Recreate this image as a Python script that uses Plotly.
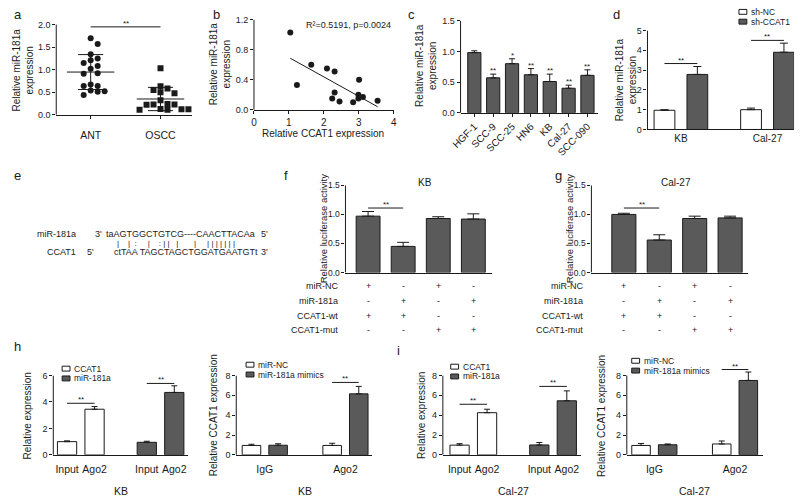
import numpy as np
import plotly.graph_objects as go

W, H = 800, 503
FONT = "Liberation Sans, Arial, sans-serif"
INK = "#1a1a1a"
GRAY = "#5a5a5a"

# ---------------- data ----------------
# (a) scatter, relative miR-181a expression
a_groups = ["ANT", "OSCC"]
a_ant = [1.70, 1.57, 1.34, 1.25, 1.21, 1.15, 1.08, 1.02, 0.92, 0.91, 0.67, 0.64, 0.64, 0.54, 0.52, 0.51, 0.44]
a_oscc = [1.03, 0.63, 0.58, 0.55, 0.50, 0.48, 0.32, 0.24, 0.23, 0.23, 0.22, 0.13, 0.12, 0.11, 0.11, 0.12]
a_ylabel = "Relative miR-181a<br>expression"

# (b) correlation
b_ccat1 = [1.04, 1.23, 1.64, 2.09, 2.31, 2.31, 2.24, 2.45, 3.01, 2.99, 2.99, 3.12, 2.84, 3.54]
b_mir181a = [1.03, 0.33, 0.60, 0.55, 0.51, 0.23, 0.15, 0.11, 0.40, 0.20, 0.15, 0.17, 0.10, 0.12]
b_stat = "R²=0.5191, p=0.0024"
b_xlabel = "Relative CCAT1 expression"

# (c) cell lines
c_lines = ["HGF-1", "SCC-9", "SCC-25", "HN6", "KB", "Cal-27", "SCC-090"]
c_mean = [0.98, 0.57, 0.80, 0.62, 0.51, 0.40, 0.61]
c_err = [0.03, 0.06, 0.08, 0.10, 0.12, 0.05, 0.09]
c_sig = ["", "**", "*", "**", "**", "**", "**"]

# (d) knockdown
d_cells = ["KB", "Cal-27"]
d_series = ["sh-NC", "sh-CCAT1"]
d_nc = [0.97, 1.00]
d_nc_err = [0.03, 0.08]
d_sh = [2.78, 3.90]
d_sh_err = [0.40, 0.46]
d_sig = [3.33, 4.50]

# (e) binding sites
e_mir_name, e_mir_end5, e_mir_seq, e_mir_end3 = "miR-181a", "3'", "taAGTGGCTGTCG----CAACTTACAa", "5'"
e_lnc_name, e_lnc_end5, e_lnc_seq, e_lnc_end3 = "CCAT1", "5'", "ctTAA TAGCTAGCTGGATGAATGTt", "3'"
e_pairs = "|    |  :     |    : | |   |       |     | | | | | | |"

# (f, g) luciferase
fg_rows = ["miR-NC", "miR-181a", "CCAT1-wt", "CCAT1-mut"]
fg_table = [["+", "-", "+", "-"],
            ["-", "+", "-", "+"],
            ["+", "+", "-", "-"],
            ["-", "-", "+", "+"]]
f_title, f_mean, f_err = "KB", [0.97, 0.45, 0.93, 0.92], [0.08, 0.07, 0.03, 0.09]
g_title, g_mean, g_err = "Cal-27", [1.00, 0.56, 0.93, 0.94], [0.02, 0.09, 0.04, 0.03]
fg_ylabel = "Relative luciferase activity"

# (h, i) RIP
rip_ticks = ["Input", "Ago2"]
rip_series = ["CCAT1", "miR-181a"]
h_ccat1, h_ccat1_err = [1.00, 3.45], [0.06, 0.20]
h_mir, h_mir_err = [0.95, 4.72], [0.08, 0.50]
h_sig = [3.9, 5.4]
i_ccat1, i_ccat1_err = [0.98, 4.25], [0.15, 0.35]
i_mir, i_mir_err = [1.00, 5.45], [0.25, 1.00]
i_sig = [5.1, 6.9]

mim_groups = ["IgG", "Ago2"]
mim_series = ["miR-NC", "miR-181a mimics"]
hr_nc, hr_nc_err = [0.95, 0.95], [0.12, 0.22]
hr_mim, hr_mim_err = [0.97, 6.15], [0.15, 0.75]
hr_sig = 7.3
ir_nc, ir_nc_err = [0.95, 1.10], [0.20, 0.30]
ir_mim, ir_mim_err = [1.02, 7.50], [0.08, 0.85]
ir_sig = 8.6

# ---------------- helpers ----------------
fig = go.Figure()
layout = dict(width=W, height=H, margin=dict(l=0, r=0, t=0, b=0),
              paper_bgcolor="white", plot_bgcolor="white", showlegend=False,
              font=dict(family=FONT, size=9, color=INK))
shapes, annots = [], []


def sfx(n):
    return "" if n == 1 else str(n)


def make_axes(n, left, right, c0, x0, c1, x1, zero, top, topval, ymax, ytickvals, yfmt,
              xtickvals=None, xticktext=None, xticks="", tickangle=0, xlabels=True,
              xfont=10, yfont=9, xstand=0):
    pp = (c1 - c0) / (x1 - x0)
    xr = [x0 - (c0 - left) / pp, x1 + (right - c1) / pp]
    py = (zero - top) / topval
    dtop = zero - ymax * py
    s = sfx(n)
    layout["xaxis" + s] = dict(domain=[left / W, right / W], range=xr, anchor="y" + s,
                               showline=True, linecolor=INK, linewidth=1, showgrid=False,
                               zeroline=False, ticks=xticks, ticklen=3, tickcolor=INK,
                               tickvals=xtickvals, ticktext=xticktext, tickangle=tickangle,
                               showticklabels=xlabels, tickfont=dict(size=xfont, color=INK),
                               ticklabelstandoff=xstand, fixedrange=True)
    layout["yaxis" + s] = dict(domain=[1 - zero / H, 1 - dtop / H], range=[0, ymax], anchor="x" + s,
                               showline=False, showgrid=False, zeroline=False, ticks="outside",
                               ticklen=3, tickcolor=INK, tickvals=ytickvals, tickformat=yfmt,
                               tickfont=dict(size=yfont, color=INK), fixedrange=True)
    shapes.append(dict(type="line", xref="x" + s + " domain", yref="y" + s, x0=0, x1=0,
                       y0=0, y1=topval, line=dict(color=INK, width=1)))


def bars(n, x, y, err, color, width, cap):
    s = sfx(n)
    fig.add_trace(go.Bar(x=x, y=y, width=width, xaxis="x" + s, yaxis="y" + s,
                         marker=dict(color=color, line=dict(color=INK, width=1)),
                         error_y=dict(type="data", array=err, arrayminus=[0] * len(err),
                                      symmetric=False, color=INK, thickness=1, width=cap)))


def sig(n, x0, x1, y, text="**"):
    s = sfx(n)
    shapes.append(dict(type="line", xref="x" + s, yref="y" + s, x0=x0, x1=x1, y0=y, y1=y,
                       line=dict(color=INK, width=1)))
    annots.append(dict(xref="x" + s, yref="y" + s, x=(x0 + x1) / 2, y=y, text=text, showarrow=False,
                       yanchor="bottom", yshift=-3, font=dict(size=8, color=INK)))


def txt(x, y, text, size=10, xanchor="center", angle=0, **kw):
    annots.append(dict(xref="paper", yref="paper", x=x / W, y=1 - y / H, text=text, showarrow=False,
                       xanchor=xanchor, yanchor="middle", textangle=angle,
                       font=dict(size=size, color=INK, family=FONT), **kw))


def legend_box(x, y, color, label):
    shapes.append(dict(type="rect", xref="paper", yref="paper", x0=x / W, x1=(x + 8) / W,
                       y0=1 - (y + 2.5) / H, y1=1 - (y - 2.5) / H, fillcolor=color,
                       line=dict(color=INK, width=1)))
    txt(x + 10, y, label, size=8.5, xanchor="left")


def swarm(vals, dy, step):
    placed, offs = [], []
    cands = [0.0]
    for j in range(1, 25):
        cands += [j * step, -j * step]
    for v in vals:
        for o in cands:
            if all(abs(v - pv) >= dy or abs(o - po) >= step * 0.99 for pv, po in placed):
                break
        placed.append((v, o))
        offs.append(o)
    return offs


# ---------------- panel a ----------------
make_axes(1, 47, 185, 82, 0, 153, 1, 112, 20, 2.0, 2.03, [0, 0.5, 1.0, 1.5, 2.0], ".1f",
          xtickvals=[0, 1], xticktext=a_groups, xticks="outside", xfont=10.5, xstand=8)
for i, vals in enumerate([a_ant, a_oscc]):
    offs = swarm(vals, 0.13, 0.1)
    fig.add_trace(go.Scatter(x=[i + o for o in offs], y=vals, mode="markers", xaxis="x", yaxis="y",
                             marker=dict(symbol=["circle", "square"][i], size=6, color=INK)))
    m, sd = float(np.mean(vals)), float(np.std(vals, ddof=1))
    fig.add_trace(go.Scatter(x=[i - 0.34, i + 0.34, None, i - 0.18, i + 0.18, None,
                                i - 0.18, i + 0.18, None, i, i],
                             y=[m, m, None, m + sd, m + sd, None, m - sd, m - sd, None, m - sd, m + sd],
                             mode="lines", line=dict(color=INK, width=1), xaxis="x", yaxis="y"))
sig(1, 0, 1, 1.95)
txt(13, 66, a_ylabel, angle=-90)
txt(8, 10, "a", size=13)

# ---------------- panel b ----------------
make_axes(2, 248, 390, 248, 0, 390, 4, 107, 15, 1.2, 1.2, [0, 0.4, 0.8, 1.2], ".1f",
          xtickvals=[0, 1, 2, 3, 4], xticks="outside")
fig.add_trace(go.Scatter(x=b_ccat1, y=b_mir181a, mode="markers", xaxis="x2", yaxis="y2",
                         marker=dict(size=6, color=INK)))
slope, icpt = np.polyfit(b_ccat1, b_mir181a, 1)
fx = np.array([min(b_ccat1), max(b_ccat1)])
fig.add_trace(go.Scatter(x=fx, y=slope * fx + icpt, mode="lines", xaxis="x2", yaxis="y2",
                         line=dict(color=INK, width=1)))
txt(389, 20, b_stat, size=9, xanchor="right")
txt(213, 60, "Relative miR-181a<br>expression", angle=-90)
txt(318, 131, b_xlabel)
txt(210, 10, "b", size=13)

# ---------------- panel c ----------------
cx = list(range(len(c_lines)))
make_axes(3, 458, 598, 472, 0, 587, 6, 110, 16, 1.5, 1.5, [0, 0.5, 1.0, 1.5], ".1f",
          xtickvals=cx, xticktext=c_lines, xticks="outside", tickangle=-45)
bars(3, cx, c_mean, c_err, GRAY, 0.7, 3)
for xi, m, e, st in zip(cx, c_mean, c_err, c_sig):
    if st:
        annots.append(dict(xref="x3", yref="y3", x=xi, y=m + e, text=st, showarrow=False,
                           yanchor="bottom", yshift=-3, font=dict(size=8, color=INK)))
txt(423, 62, "Relative miR-181a<br>expression", angle=-90)
txt(408, 10, "c", size=13)

# ---------------- panel d ----------------
dx = list(range(len(d_cells)))
off = 0.19
make_axes(4, 648, 797, 682, 0, 770, 1, 127, 26, 5, 5.0, [0, 1, 2, 3, 4, 5], "d",
          xtickvals=dx, xticktext=d_cells)
bars(4, [x - off for x in dx], d_nc, d_nc_err, "white", 0.24, 4)
bars(4, [x + off for x in dx], d_sh, d_sh_err, GRAY, 0.24, 4)
for xi, lv in zip(dx, d_sig):
    sig(4, xi - off, xi + off, lv)
txt(627, 76, "Relative miR-181a<br>expression", angle=-90)
txt(617, 10, "d", size=13)
legend_box(741, 7, "white", d_series[0])
legend_box(741, 17, GRAY, d_series[1])

# ---------------- panel e ----------------
txt(8, 174, "e", size=13)
txt(69, 234, e_mir_name, size=9, xanchor="right")
txt(84, 234, e_mir_end5, size=9, xanchor="left")
txt(96, 234, e_mir_seq, size=9, xanchor="left")
txt(253, 234, e_mir_end3, size=9, xanchor="left")
txt(69, 252, e_lnc_name, size=9, xanchor="right")
txt(76, 252, e_lnc_end5, size=9, xanchor="left")
txt(104, 252, e_lnc_seq, size=9, xanchor="left")
txt(253, 252, e_lnc_end3, size=9, xanchor="left")
txt(107, 243, e_pairs.replace(" ", "\u00a0"), size=8, xanchor="left")


# ---------------- panels f, g ----------------
def luc(n, left, right, c0, c1, mean, err, title, letter, lx, row_label_x):
    xs = list(range(4))
    make_axes(n, left, right, c0, 0, c1, 3, 273, 184, 1.5, 1.5, [0, 0.5, 1.0, 1.5], ".1f",
              xlabels=False, yfont=8.5)
    bars(n, xs, mean, err, GRAY, 0.68, 6)
    sig(n, 0, 1, 1.11)
    txt((left + right) / 2 + 6, 181, title, size=10)
    txt(lx, 174, letter, size=13)
    txt(left - 22, 228, fg_ylabel, size=9.5, angle=-90)
    s = sfx(n)
    for r, (lab, row) in enumerate(zip(fg_rows, fg_table)):
        y = 287 + r * 15
        txt(row_label_x, y, lab, size=9, xanchor="right")
        for xi, sym in zip(xs, row):
            annots.append(dict(xref="x" + s, yref="paper", x=xi, y=1 - y / H, text=sym, showarrow=False,
                               yanchor="middle", font=dict(size=9, color=INK)))


luc(5, 341, 490, 364, 471, f_mean, f_err, f_title, "f", 281, 335)
luc(6, 591, 750, 624, 732, g_mean, g_err, g_title, "g", 558, 585)


# ---------------- panels h, i ----------------
def rip(n, left, right, c0, c1, ccat1, ccat1_e, mir, mir_e, sigs, ymax6, cell, ylab_x, leg_x, leg_y):
    xs = [0, 1, 2.9, 3.9]
    topval = 6 if ymax6 else 8
    make_axes(n, left, right, c0, 0, c1, 3.9, 459, 378, topval, topval,
              list(range(0, topval + 1, 2)), "d", xtickvals=xs, xticktext=rip_ticks * 2,
              xfont=10.5, xstand=5)
    bars(n, xs[:2], ccat1, ccat1_e, "white", 0.7, 3)
    bars(n, xs[2:], mir, mir_e, GRAY, 0.7, 3)
    sig(n, xs[0], xs[1], sigs[0])
    sig(n, xs[2], xs[3], sigs[1])
    txt((c0 + c1) / 2, 496, cell, size=10.5)
    txt(ylab_x, 419, "Relative expression", angle=-90)
    legend_box(leg_x, leg_y, "white", rip_series[0])
    legend_box(leg_x, leg_y + 10, GRAY, rip_series[1])


def mim(n, left, right, c0, c1, nc, nc_e, mm, mm_e, sg, ymax, cell, ylab_x, leg_x, leg_y):
    xs = [0, 1]
    o = 0.165
    make_axes(n, left, right, c0, 0, c1, 1, 459, 378, 8, ymax, [0, 2, 4, 6, 8], "d",
              xtickvals=xs, xticktext=mim_groups, xfont=10.5, xstand=5)
    bars(n, [x - o for x in xs], nc, nc_e, "white", 0.23, 3)
    bars(n, [x + o for x in xs], mm, mm_e, GRAY, 0.23, 3)
    sig(n, 1 - o, 1 + o, sg)
    txt((c0 + c1) / 2, 496, cell, size=10.5)
    txt(ylab_x, 419, "Relative CCAT1 expression", angle=-90)
    legend_box(leg_x, leg_y, "white", mim_series[0])
    legend_box(leg_x, leg_y + 10, GRAY, mim_series[1])


rip(7, 44, 181, 58, 167, h_ccat1, h_ccat1_err, h_mir, h_mir_err, h_sig, True, "KB", 18, 53, 371)
mim(8, 230, 368, 259, 341, hr_nc, hr_nc_err, hr_mim, hr_mim_err, hr_sig, 8.0, "KB", 207, 240, 367)
rip(9, 440, 580, 457, 566, i_ccat1, i_ccat1_err, i_mir, i_mir_err, i_sig, False, "Cal-27", 418, 448, 369)
mim(10, 627, 765, 655, 737, ir_nc, ir_nc_err, ir_mim, ir_mim_err, ir_sig, 8.8, "Cal-27", 601, 632, 363)
txt(8, 348, "h", size=13)
txt(395, 352, "i", size=13)

layout["shapes"] = shapes
layout["annotations"] = annots
fig.update_layout(**layout)
fig.write_html("out.html", config=dict(displayModeBar=False, staticPlot=True),
               post_script="document.body.style.margin='0';document.body.style.padding='0';"
                           "document.documentElement.style.overflow='hidden';")
